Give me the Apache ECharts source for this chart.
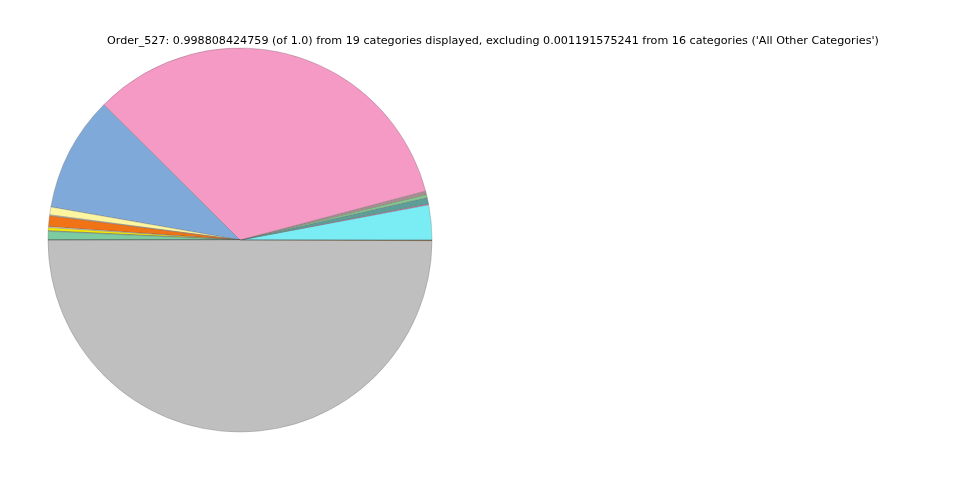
<!DOCTYPE html>
<html>
<head>
<meta charset="utf-8">
<script src="https://cdn.jsdelivr.net/npm/echarts@6/dist/echarts.min.js"></script>
<style>html,body{margin:0;padding:0;background:#fff;}#c{width:960px;height:480px;}</style>
</head>
<body>
<div id="c"></div>
<script>
const titleText = "Order_527: 0.998808424759 (of 1.0) from 19 categories displayed, excluding 0.001191575241 from 16 categories ('All Other Categories')";
const categories = ["Cat A","Cat B","Cat C","Cat D","Cat E","Cat F","Cat G","Cat H","Cat I","Cat J","Cat K","Cat L","Cat M","Cat N","Cat O","Cat P","Cat Q","Cat R","Cat S"];
const values = [0.02941,0.00083,0.00527,0.00250,0.00305,0.33405,0.09683,0.00660,0.00083,0.00900,0.00083,0.00250,0.00055,0.00721,0.00005,0.00005,0.00005,0.49870,0.00055];
const colors = ["#7aecf3","#e07ab0","#5e9e98","#86c98e","#a89090","#f49ac4","#7ea9d9","#fdf5a0","#c8c8c8","#f07316","#f4f4f4","#f5ec00","#8aa0c8","#7dcba0","#999999","#aaaaaa","#bbbbbb","#bfbfbf","#7a5a20"];

const chart = echarts.init(document.getElementById('c'), null, {renderer:'canvas'});
chart.setOption({
  animation:false,
  backgroundColor:'#ffffff',
  title:{text:titleText,left:102,top:31,textStyle:{fontFamily:'DejaVu Sans',fontSize:11.15,fontWeight:'normal',color:'#000'}},
  series:[{
    type:'pie',
    center:[240,240],
    radius:[0,192],
    startAngle:0,
    clockwise:false,
    minAngle:0,
    avoidLabelOverlap:false,
    label:{show:false},
    labelLine:{show:false},
    itemStyle:{borderColor:'rgba(90,90,90,0.55)',borderWidth:0.5},
    data:categories.map((n,i)=>({name:n,value:values[i],itemStyle:{color:colors[i]}}))
  }]
});
</script>
</body>
</html>
